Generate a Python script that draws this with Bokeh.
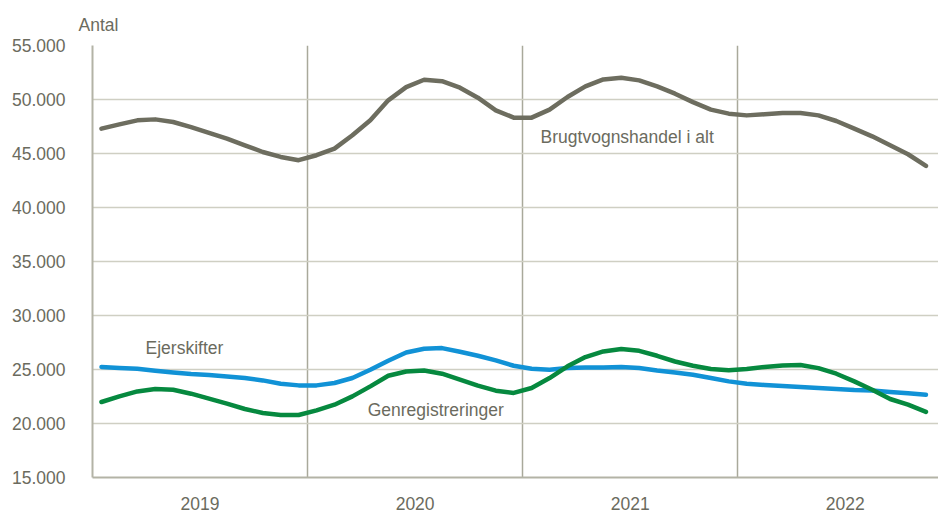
from bokeh.plotting import figure
from bokeh.models import FixedTicker, Label, Range1d
from bokeh.embed import file_html
from bokeh.resources import INLINE

# Monthly data Jan 2019 - Nov 2022 (month index 0..46, points at month centres)
months = list(range(47))
brugtvognshandel = [
    47300, 47700, 48070, 48160, 47920, 47450, 46900, 46380, 45760, 45140, 44680, 44380,
    44840, 45450, 46690, 48070, 49920, 51150, 51830, 51700, 51090, 50170, 49000, 48320,
    48320, 49060, 50230, 51210, 51860, 52010, 51770, 51210, 50540, 49760, 49060, 48690,
    48530, 48630, 48750, 48750, 48530, 48010, 47300, 46590, 45760, 44930, 43850,
]
ejerskifter = [
    25230, 25150, 25070, 24890, 24730, 24580, 24490, 24360, 24210, 23990, 23680, 23530,
    23530, 23750, 24210, 24980, 25810, 26570, 26920, 26980, 26640, 26270, 25840, 25350,
    25070, 24980, 25130, 25180, 25180, 25230, 25130, 24910, 24730, 24520, 24210, 23900,
    23680, 23560, 23470, 23370, 23280, 23190, 23100, 23060, 22910, 22790, 22660,
]
genregistreringer = [
    21990, 22510, 22970, 23190, 23120, 22760, 22300, 21840, 21340, 20970, 20790, 20790,
    21220, 21740, 22510, 23440, 24420, 24820, 24910, 24610, 24060, 23500, 23040, 22830,
    23290, 24210, 25290, 26150, 26670, 26890, 26730, 26270, 25740, 25350, 25040, 24920,
    25040, 25230, 25380, 25410, 25130, 24610, 23900, 23130, 22270, 21740, 21070,
]
year_labels = ["2019", "2020", "2021", "2022"]
year_centers = [5.5, 17.5, 29.5, 41.5]
year_bounds = [11.5, 23.5, 35.5]
y_ticks = [15000, 20000, 25000, 30000, 35000, 40000, 45000, 50000, 55000]
y_tick_labels = ["15.000", "20.000", "25.000", "30.000", "35.000", "40.000", "45.000", "50.000", "55.000"]

TEXT = "#6b6b5e"
FONT = "Liberation Sans"
FS = "17.5px"
GRAY = "#6d6d5f"
BLUE = "#1192d6"
GREEN = "#06893f"

p = figure(width=938, height=512, output_backend="svg", toolbar_location=None,
           x_range=Range1d(-0.5, 46.7), y_range=Range1d(15000, 55000),
           min_border_left=92, min_border_right=0, min_border_top=45, min_border_bottom=34)
p.outline_line_color = None
p.background_fill_color = "white"

# title used as y-axis caption
p.title.text = "Antal"
p.title.align = "left"
p.title.offset = -14
p.title.text_font = FONT
p.title.text_font_size = FS
p.title.text_font_style = "normal"
p.title.text_color = TEXT
p.title.standoff = 21

# grids
p.ygrid.ticker = FixedTicker(ticks=y_ticks)
p.ygrid.grid_line_color = "#cfcfc3"
p.ygrid.grid_line_width = 1.5
p.xgrid.ticker = FixedTicker(ticks=year_bounds)
p.xgrid.grid_line_color = "#a9a99b"
p.xgrid.grid_line_width = 1.5

# y axis
ya = p.yaxis[0]
ya.ticker = FixedTicker(ticks=y_ticks)
ya.major_label_overrides = {t: l for t, l in zip(y_ticks, y_tick_labels)}
ya.major_tick_line_color = None
ya.minor_tick_line_color = None
ya.axis_line_color = "#b3b3a6"
ya.axis_line_width = 2
ya.major_label_standoff = 21
ya.major_label_text_font = FONT
ya.major_label_text_font_size = FS
ya.major_label_text_color = TEXT

# x axis
xa = p.xaxis[0]
xa.ticker = FixedTicker(ticks=year_centers)
xa.major_label_overrides = {c: l for c, l in zip(year_centers, year_labels)}
xa.major_tick_line_color = None
xa.minor_tick_line_color = None
xa.axis_line_color = "#b3b3a6"
xa.axis_line_width = 2
xa.major_label_standoff = 13
xa.major_label_text_font = FONT
xa.major_label_text_font_size = FS
xa.major_label_text_color = TEXT

# lines
p.line(months, brugtvognshandel, line_color=GRAY, line_width=4.5, line_join="round", line_cap="round")
p.line(months, ejerskifter, line_color=BLUE, line_width=4.5, line_join="round", line_cap="round")
p.line(months, genregistreringer, line_color=GREEN, line_width=4.5, line_join="round", line_cap="round")

def lab(x, y, t):
    p.add_layout(Label(x=x, y=y, text=t, text_font=FONT, text_font_size=FS,
                       text_color=TEXT, text_baseline="middle", text_align="left"))

lab(24.5, 46500, "Brugtvognshandel i alt")
lab(2.46, 27010, "Ejerskifter")
lab(14.85, 21280, "Genregistreringer")

open("out.html", "w").write(file_html(p, INLINE))
